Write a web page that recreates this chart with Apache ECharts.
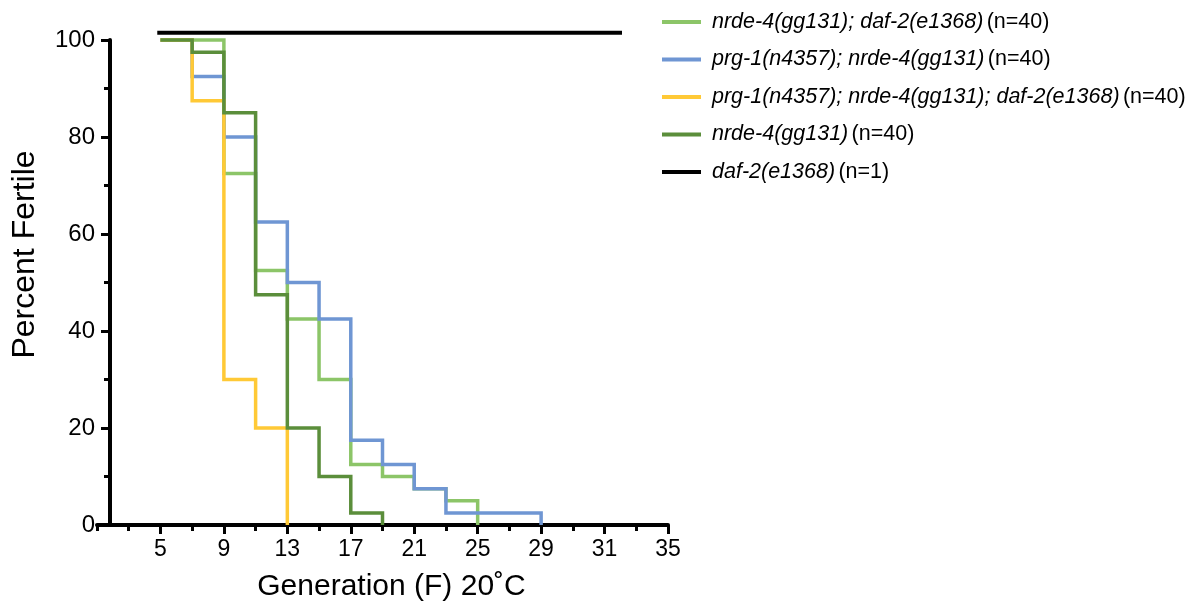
<!DOCTYPE html>
<html><head><meta charset="utf-8">
<script src="https://cdn.jsdelivr.net/npm/echarts@6/dist/echarts.min.js"></script>
<style>html,body{margin:0;padding:0;background:#fff}#c{width:1196px;height:605px}</style>
</head><body><div id="c"></div>
<script>
// Data
const lgX = [5, 9, 11, 13, 15, 17, 19, 21, 23, 25];
const lgY = [100, 72.5, 52.5, 42.5, 30, 12.5, 10, 7.5, 5, 0];
const blueX = [5, 7, 9, 11, 13, 15, 17, 19, 21, 23, 29];
const blueY = [100, 92.5, 80, 62.5, 50, 42.5, 17.5, 12.5, 7.5, 2.5, 0];
const yelX = [5, 7, 9, 11, 13];
const yelY = [100, 87.5, 30, 20, 0];
const dgX = [5, 7, 9, 11, 13, 15, 17, 19];
const dgY = [100, 97.5, 85, 47.5, 20, 10, 2.5, 0];
const blkX = [4.8, 34.1];
const blkY = [101.5, 101.5];
const xTickPos = [5, 9, 13, 17, 21, 25, 29, 33, 37];
const xTickLabels = ['5', '9', '13', '17', '21', '25', '29', '31', '35'];
const xMinorPos = [1, 3, 5, 7, 9, 11, 13, 15, 17, 19, 21, 23, 25, 27, 29, 31, 33, 35, 37];
const yTicks = [0, 20, 40, 60, 80, 100];
const yMinor = [0, 10, 20, 30, 40, 50, 60, 70, 80, 90, 100];
const names = [
  ['nrde-4(gg131); daf-2(e1368)', '(n=40)'],
  ['prg-1(n4357); nrde-4(gg131)', '(n=40)'],
  ['prg-1(n4357); nrde-4(gg131); daf-2(e1368)', '(n=40)'],
  ['nrde-4(gg131)', '(n=40)'],
  ['daf-2(e1368)', '(n=1)']
];
const colors = ['#8cc568', '#6f96d3', '#ffc936', '#5b8e3b', '#000000'];

const zip = (xs, ys) => xs.map((x, i) => [x, ys[i]]);
const seriesData = [zip(lgX, lgY), zip(blueX, blueY), zip(yelX, yelY), zip(dgX, dgY), zip(blkX, blkY)];
const legendNames = names.map(n => n[0] + ' ' + n[1]);
const nameMap = {};
names.forEach((n, i) => nameMap[legendNames[i]] = n);

const FONT = 'Liberation Sans, Arial, sans-serif';
const chart = echarts.init(document.getElementById('c'));
chart.setOption({
  animation: false,
  grid: { left: 97, right: 1196 - 668, top: 40, bottom: 605 - 525, containLabel: false, outerBoundsMode: 'none' },
  legend: {
    orient: 'vertical', left: 662, top: 11, padding: 0, itemGap: 15.5,
    icon: 'rect', itemWidth: 39, itemHeight: 4,
    data: legendNames,
    formatter: function (n) { const p = nameMap[n]; return '{i|' + p[0] + '} {n|' + p[1] + '}'; },
    textStyle: {
      padding: [0, 0, 0, 6],
      rich: {
        i: { fontStyle: 'italic', fontSize: 21.5, fontFamily: FONT, color: '#000', lineHeight: 22 },
        n: { fontSize: 21.5, fontFamily: FONT, color: '#000', lineHeight: 22 }
      }
    }
  },
  xAxis: [{
    type: 'value', min: 1, max: 37, position: 'bottom',
    axisLine: { show: true, onZero: false, lineStyle: { color: '#000', width: 4 } },
    axisTick: { show: true, customValues: xMinorPos, length: 6, lineStyle: { color: '#000', width: 3 } },
    axisLabel: { show: false },
    splitLine: { show: false },
    name: 'Generation (F) 20˚C', nameLocation: 'middle', nameGap: 47,
    nameTextStyle: { fontSize: 30, fontFamily: FONT, color: '#000', padding: [0, 0, 0, 18] }
  }, {
    type: 'value', min: 1, max: 37, position: 'bottom',
    axisLine: { show: false },
    axisTick: { show: true, customValues: xTickPos, length: 9, lineStyle: { color: '#000', width: 3 } },
    axisLabel: {
      show: true, customValues: xTickPos, margin: 13, fontSize: 23, fontFamily: FONT, color: '#000',
      formatter: v => xTickLabels[xTickPos.indexOf(v)]
    },
    splitLine: { show: false }
  }],
  yAxis: [{
    type: 'value', min: 0, max: 100, offset: -13,
    axisLine: { show: true, onZero: false, lineStyle: { color: '#000', width: 4 } },
    axisTick: { show: true, customValues: yMinor, length: 6, lineStyle: { color: '#000', width: 3 } },
    axisLabel: { show: false },
    splitLine: { show: false },
    name: 'Percent Fertile', nameLocation: 'middle', nameRotate: 90, nameGap: 69,
    nameTextStyle: { fontSize: 32, fontFamily: FONT, color: '#000', padding: [0, 0, 0, 56] }
  }, {
    type: 'value', min: 0, max: 100, offset: -13, position: 'left',
    axisLine: { show: false },
    axisTick: { show: true, customValues: yTicks, length: 9, lineStyle: { color: '#000', width: 3 } },
    axisLabel: { show: true, customValues: yTicks, margin: 15, fontSize: 24, fontFamily: FONT, color: '#000' },
    splitLine: { show: false }
  }],
  series: seriesData.map((d, i) => ({
    name: legendNames[i], type: 'line', step: i < 4 ? 'end' : false, data: d,
    showSymbol: false, symbol: 'none', clip: false,
    lineStyle: { color: colors[i], width: i === 4 ? 4 : 3.5, cap: 'butt', join: 'miter' },
    itemStyle: { color: colors[i] }, z: 2 + i
  }))
});
</script></body></html>
